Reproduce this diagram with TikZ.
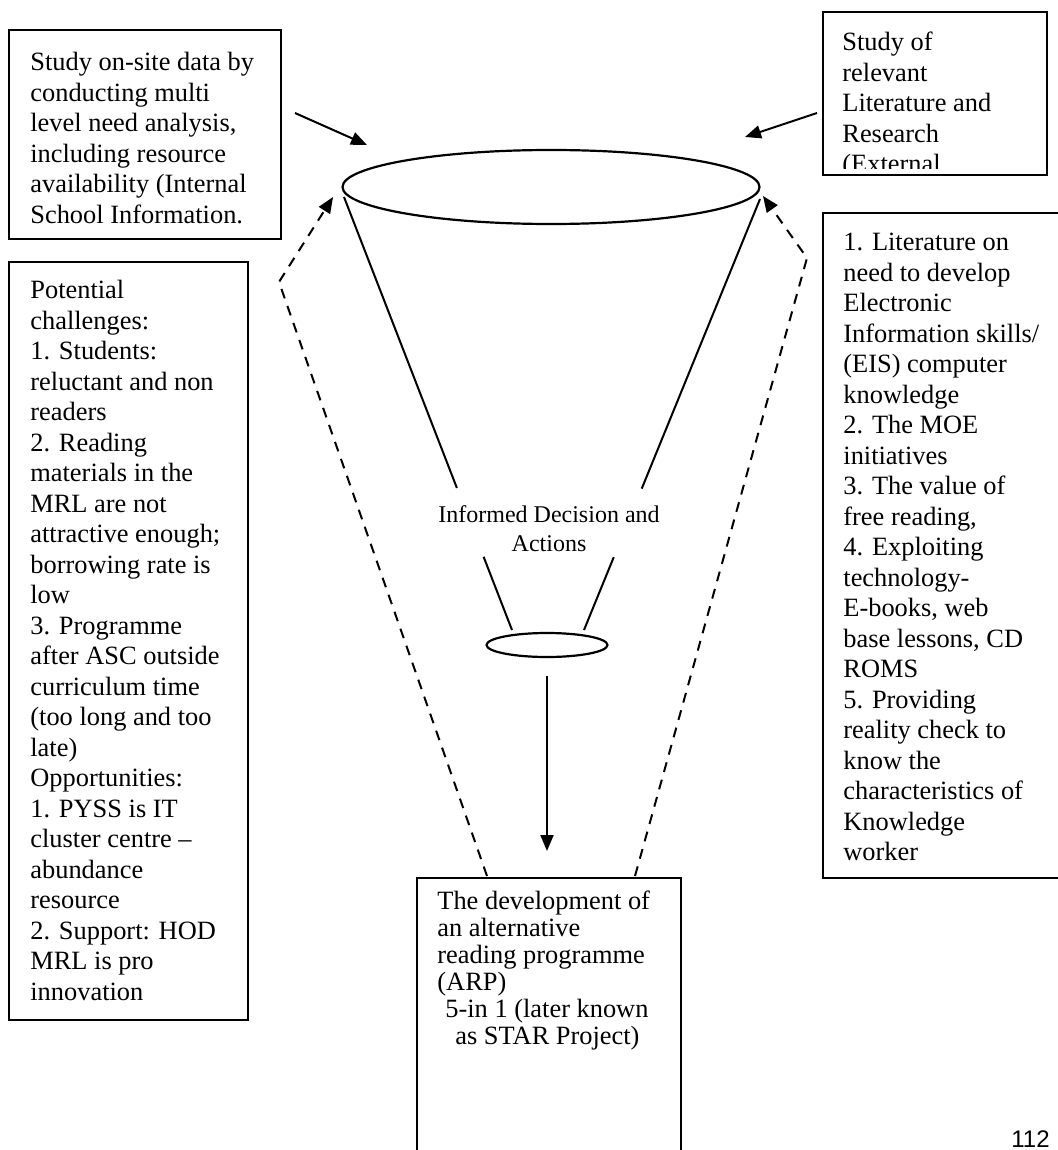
\documentclass[tikz,border=0pt]{standalone}
\usepackage{fontspec}
\setmainfont{Liberation Serif}
\newfontfamily\pagenumfont{Liberation Sans}
\usetikzlibrary{arrows.meta,shapes.geometric,calc}

\begin{document}
\begin{tikzpicture}[x=0.5pt,y=-0.5pt]
	\tikzset{box/.style = {shape=rectangle,draw,line width=1pt,inner sep=0pt}}
	\tikzset{txt/.style = {anchor=north west,align=left,inner sep=0pt,font=\fontsize{13.2}{15.25}\selectfont}}
	\tikzset{rim/.style = {shape=ellipse,draw,line width=1.1pt,inner sep=0pt}}
	\tikzset{arr/.style = {-{Triangle[length=8pt,width=6.5pt]},line width=1pt}}
	\tikzset{feedback/.style = {arr,dash pattern=on 5pt off 4pt}}
	\useasboundingbox (0,0) rectangle (1057,1150);

	% boxes
	\node[box,minimum width=136pt,minimum height=104.5pt] (site) at (145,134.5) {};
	\node[box,minimum width=112pt,minimum height=81.5pt] (lit) at (935,93.5) {};
	\node[box,minimum width=119.5pt,minimum height=379pt] (chal) at (128.5,641) {};
	\node[box,minimum width=119.5pt,minimum height=332.5pt] (eis) at (942.5,545.5) {};
	\node[box,minimum width=132pt,minimum height=139pt] (arp) at (549,1017) {};

	% box texts
	\node[txt] (sitetext) at (30,52) {Study on-site data by\\conducting multi\\level need analysis,\\including resource\\availability (Internal\\School Information.};
	\begin{scope}
		\clip (825,14) rectangle (1045,169);
		\node[txt] (littext) at (842,32) {Study of\\relevant\\Literature and\\Research\\(External};
	\end{scope}
	\node[txt] (chaltext) at (30,280) {Potential\\challenges:\\1. Students:\\reluctant and non\\readers\\2. Reading\\materials in the\\MRL are not\\attractive enough;\\borrowing rate is\\low\\3. Programme\\after ASC outside\\curriculum time\\(too long and too\\late)\\Opportunities:\\1. PYSS is IT\\cluster centre --\\abundance\\resource\\2. Support: HOD\\MRL is pro\\innovation};
	\node[txt] (eistext) at (843,233) {1. Literature on\\need to develop\\Electronic\\Information skills/\\(EIS) computer\\knowledge\\2. The MOE\\initiatives\\3. The value of\\free reading,\\4. Exploiting\\technology-\\E-books, web\\base lessons, CD\\ROMS\\5. Providing\\reality check to\\know the\\characteristics of\\Knowledge\\worker};
	\node[txt,font=\fontsize{13.2}{13.5}\selectfont] (arptext) at (437,890) {The development of\\an alternative\\reading programme\\(ARP)\\\hspace*{4pt}5-in 1 (later known\\\hspace*{9pt}as STAR Project)};

	% funnel
	\node[rim,minimum width=208.5pt,minimum height=37pt] (mouth) at (551,187) {};
	\node[rim,minimum width=60.5pt,minimum height=12pt] (neck) at (547,645) {};
	\coordinate (lt) at (344,197);
	\coordinate (lb) at (512,630);
	\coordinate (rt) at (760,199);
	\coordinate (rb) at (584,630);
	\draw[line width=1pt] (lt) -- ($(lt)!0.672!(lb)$);
	\draw[line width=1pt] ($(lt)!0.831!(lb)$) -- (lb);
	\draw[line width=1pt] (rt) -- ($(rt)!0.672!(rb)$);
	\draw[line width=1pt] ($(rt)!0.831!(rb)$) -- (rb);
	\node[anchor=north,align=center,inner sep=0pt,font=\fontsize{12}{14.5}\selectfont] (decide) at (549,505) {Informed Decision and\\Actions};

	% inputs
	\coordinate (siteout) at (295,113);
	\coordinate (mouthl) at (367,145);
	\coordinate (litout) at (817,113);
	\coordinate (mouthr) at (745,137);
	\draw[arr] (siteout) -- (mouthl);
	\draw[arr] (litout) -- (mouthr);

	% output
	\draw[arr,shorten <=9pt,shorten >=13pt] (neck.south) -- (neck.south |- arp.north);

	% feedback
	\coordinate (lfoot) at (487,876);
	\coordinate (lbend) at (279,282);
	\coordinate (ltip) at (333,197);
	\coordinate (rfoot) at (635,876);
	\coordinate (rbend) at (807,258);
	\coordinate (rtip) at (763,196);
	\draw[feedback] (lfoot) -- (lbend) -- (ltip);
	\draw[feedback] (rfoot) -- (rbend) -- (rtip);

	\node[anchor=base east,inner sep=0pt,font=\pagenumfont\fontsize{12}{14}\selectfont] (pagenum) at (1050,1147) {112};
\end{tikzpicture}
\end{document}
